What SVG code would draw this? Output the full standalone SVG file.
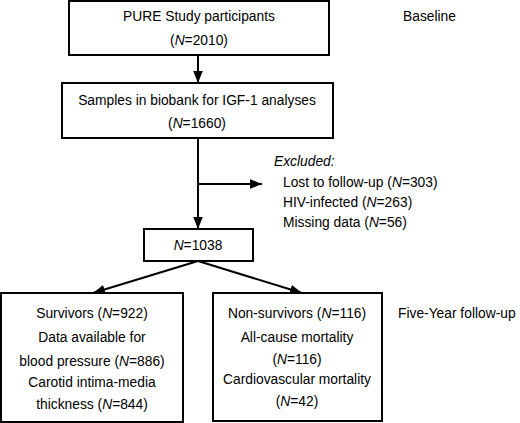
<svg xmlns="http://www.w3.org/2000/svg" width="520" height="423" viewBox="0 0 520 423">
<style>
.box{fill:#fff;stroke:#000;stroke-width:2}
.t{font-family:"Liberation Sans",Arial,Helvetica,sans-serif;font-size:13.8px;fill:#000}
.c{text-anchor:middle}
.ln{stroke:#000;stroke-width:2;fill:none}
</style>
<defs>
<marker id="ah" viewBox="0 0 10 10" refX="10" refY="5" markerWidth="5.5" markerHeight="5.5" markerUnits="userSpaceOnUse" orient="auto">
<path d="M0,0 L10,5 L0,10 z" fill="#000"/>
</marker>
<marker id="ah2" viewBox="0 0 10 10" refX="10" refY="5" markerWidth="12" markerHeight="12" markerUnits="userSpaceOnUse" orient="auto">
<path d="M0,1 L10,5 L0,9 z" fill="#000"/>
</marker>
</defs>
<g id="connectors">
<line class="ln" x1="198" y1="55" x2="198" y2="83" marker-end="url(#ah2)"/>
<line class="ln" x1="198" y1="138" x2="198" y2="229" marker-end="url(#ah2)"/>
<line class="ln" x1="198" y1="184" x2="262" y2="184" marker-end="url(#ah2)"/>
<line class="ln" x1="198" y1="261" x2="93" y2="293" marker-end="url(#ah2)"/>
<line class="ln" x1="198" y1="261" x2="302" y2="293" marker-end="url(#ah2)"/>
</g>
<g id="n1">
<rect class="box" x="69" y="1" width="260" height="54"/>
<text class="t c" x="199" y="21">PURE Study participants</text>
<text class="t c" x="199" y="45">(<tspan font-style="italic">N</tspan>=2010)</text>
</g>
<g id="baseline">
<text class="t" x="403" y="21">Baseline</text>
</g>
<g id="n2">
<rect class="box" x="62" y="83" width="271" height="55"/>
<text class="t c" x="197" y="105">Samples in biobank for IGF-1 analyses</text>
<text class="t c" x="197" y="128">(<tspan font-style="italic">N</tspan>=1660)</text>
</g>
<g id="excluded">
<text class="t" x="274" y="166" font-style="italic">Excluded:</text>
<text class="t" x="283" y="187">Lost to follow-up (<tspan font-style="italic">N</tspan>=303)</text>
<text class="t" x="283" y="207">HIV-infected (<tspan font-style="italic">N</tspan>=263)</text>
<text class="t" x="283" y="227">Missing data (<tspan font-style="italic">N</tspan>=56)</text>
</g>
<g id="n3">
<rect class="box" x="144" y="229" width="109" height="32"/>
<text class="t c" x="198" y="250"><tspan font-style="italic">N</tspan>=1038</text>
</g>
<g id="n4">
<rect class="box" x="1" y="293" width="182" height="129"/>
<text class="t c" x="92" y="318">Survivors (<tspan font-style="italic">N</tspan>=922)</text>
<text class="t c" x="92" y="342">Data available for</text>
<text class="t c" x="92" y="366">blood pressure (<tspan font-style="italic">N</tspan>=886)</text>
<text class="t c" x="92" y="387">Carotid intima-media</text>
<text class="t c" x="92" y="409">thickness (<tspan font-style="italic">N</tspan>=844)</text>
</g>
<g id="n5">
<rect class="box" x="213" y="293" width="169" height="128"/>
<text class="t c" x="297" y="318">Non-survivors (<tspan font-style="italic">N</tspan>=116)</text>
<text class="t c" x="297" y="342">All-cause mortality</text>
<text class="t c" x="297" y="364">(<tspan font-style="italic">N</tspan>=116)</text>
<text class="t c" x="297" y="384">Cardiovascular mortality</text>
<text class="t c" x="297" y="406">(<tspan font-style="italic">N</tspan>=42)</text>
</g>
<g id="followup">
<text class="t" x="398" y="318">Five-Year follow-up</text>
</g>
</svg>
